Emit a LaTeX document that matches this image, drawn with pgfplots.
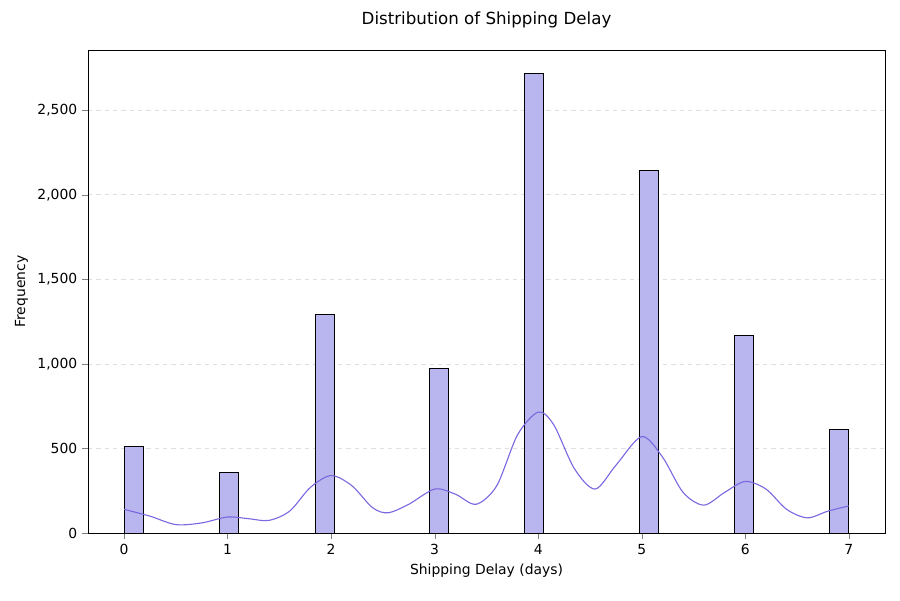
\documentclass[border=0pt]{standalone}
\usepackage{pgfplots}
\pgfplotsset{compat=1.18}
\usepackage{fontspec}
\setmainfont{DejaVu Sans}
\definecolor{barc}{RGB}{185,181,238}
\definecolor{kde}{RGB}{123,104,224}
\begin{document}
\begin{tikzpicture}
\useasboundingbox (-63.4pt,-48.2pt) rectangle (584.6pt,383.8pt);
\begin{axis}[at={(0,0)},anchor=south west,scale only axis,width=573.8pt,height=347.8pt,
 xmin=-0.348,xmax=7.35,ymin=0,ymax=2855,
 xtick={0,...,7},ytick={0,500,1000,1500,2000,2500},
 /pgf/number format/assume math mode=true,
 tick label style={font=\fontsize{10}{12}\selectfont},
 scaled y ticks=false,
 ymajorgrids,grid style={dashed,gray!25},
 tick align=outside,tick pos=left,
 xlabel={Shipping Delay (days)},ylabel={Frequency},
 label style={font=\fontsize{10}{12}\selectfont},
 title={Distribution of Shipping Delay},title style={font=\fontsize{12}{14}\selectfont,yshift=6pt},
 clip=false]
\pgfplotstableread{
x0 x1 h
0 0.1842 515
0.921 1.105 360
1.842 2.026 1295
2.947 3.132 975
3.868 4.053 2715
4.974 5.158 2145
5.895 6.079 1170
6.816 7.0 615
}\bars
\pgfplotstableforeachcolumnelement{h}\of\bars\as\v{%
 \pgfplotstablegetelem{\pgfplotstablerow}{x0}\of\bars \let\a\pgfplotsretval
 \pgfplotstablegetelem{\pgfplotstablerow}{x1}\of\bars \let\b\pgfplotsretval
 \edef\tmp{\noexpand\addplot[draw=black,fill=barc] coordinates {(\a,0) (\a,\v) (\b,\v) (\b,0)} -- cycle;}\tmp
}
\addplot[kde,thick,smooth] coordinates {(0,140) (0.25,100) (0.5,50) (0.75,60) (1,95) (1.2,85) (1.4,75) (1.6,130) (1.8,270) (2,340) (2.2,280) (2.4,150) (2.55,120) (2.75,170) (3,260) (3.2,230) (3.4,170) (3.6,280) (3.8,580) (4,715) (4.15,640) (4.35,380) (4.55,260) (4.75,400) (5,570) (5.2,450) (5.4,240) (5.6,165) (5.8,240) (6,305) (6.2,260) (6.4,140) (6.6,90) (6.8,130) (7,160)};
\end{axis}
\end{tikzpicture}
\end{document}
